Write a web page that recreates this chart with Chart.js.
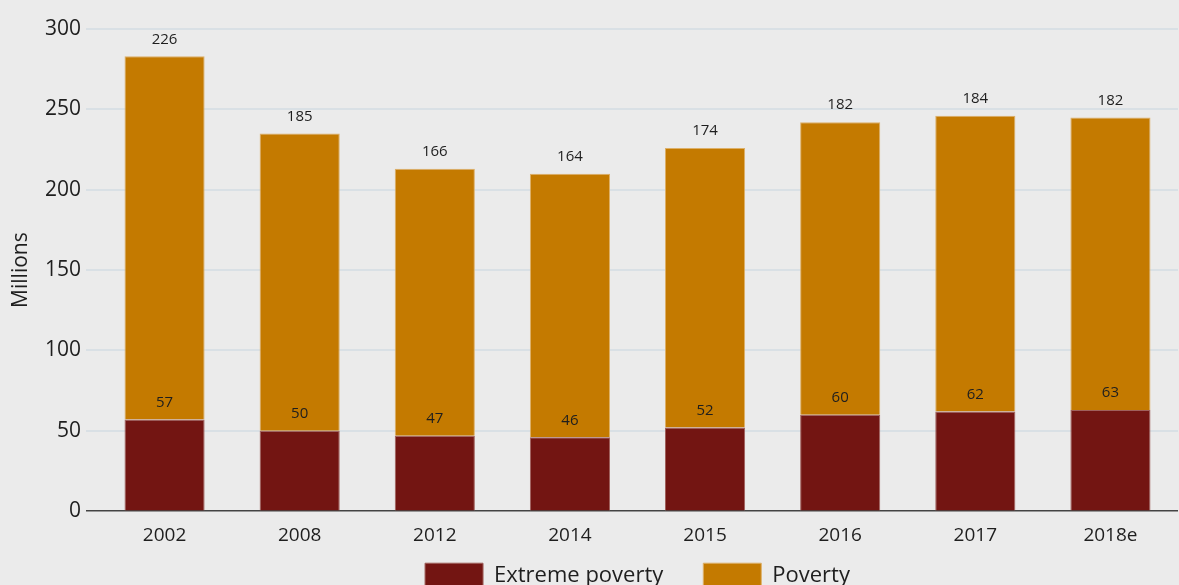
<!DOCTYPE html>
<html>
<head>
<meta charset="utf-8">
<script src="https://cdn.jsdelivr.net/npm/chart.js@4"></script>
<style>
  html, body { margin: 0; padding: 0; background: #ebebeb; overflow: hidden; }
  #wrap { width: 1179px; height: 585px; overflow: hidden; }
  #box { width: 1179px; height: 628px; }
</style>
</head>
<body>
<div id="wrap"><div id="box"><canvas id="chart"></canvas></div></div>
<script>
// Personer i fattigdom, miljoner
const years = ['2002', '2008', '2012', '2014', '2015', '2016', '2017', '2018e'];
const extremePoverty = [57, 50, 47, 46, 52, 60, 62, 63];
const poverty = [226, 185, 166, 164, 174, 182, 184, 182];
const yTicks = [0, 50, 100, 150, 200, 250, 300];

const FONT = "'Open Sans', 'DejaVu Sans', sans-serif";

// Siffror ovanför varje stapelsegment
const valueLabels = {
    id: 'valueLabels',
    afterDatasetsDraw(chart) {
        const ctx = chart.ctx;
        ctx.save();
        ctx.font = '15px ' + FONT;
        ctx.fillStyle = '#1e1e1e';
        ctx.textAlign = 'center';
        ctx.textBaseline = 'middle';
        chart.data.datasets.forEach((ds, i) => {
            chart.getDatasetMeta(i).data.forEach((bar, j) => {
                ctx.fillText(ds.data[j], bar.x, bar.y - 17);
            });
        });
        ctx.restore();
    }
};

const background = {
    id: 'background',
    beforeDraw(chart) {
        const ctx = chart.ctx;
        ctx.save();
        ctx.fillStyle = '#ebebeb';
        ctx.fillRect(0, 0, chart.width, chart.height);
        ctx.restore();
    }
};

// Legenden centreras under diagramytan och flyttas upp närmare axeln
const legendPlacement = {
    id: 'legendPlacement',
    afterLayout(chart) {
        const lg = chart.legend;
        const area = chart.chartArea;
        lg.left = area.left;
        lg.right = area.right;
        lg.top = area.bottom + 12;
        lg.bottom = lg.top + lg.height;
    }
};

new Chart(document.getElementById('chart'), {
    type: 'bar',
    data: {
        labels: years,
        datasets: [
            {
                label: 'Extreme poverty',
                data: extremePoverty,
                backgroundColor: '#731512',
                borderColor: '#a0605c',
                borderWidth: 1,
                borderSkipped: 'bottom'
            },
            {
                label: 'Poverty',
                data: poverty,
                backgroundColor: '#c47a00',
                borderColor: '#ddb068',
                borderWidth: 1,
                borderSkipped: 'bottom'
            }
        ]
    },
    options: {
        responsive: true,
        maintainAspectRatio: false,
        animation: false,
        categoryPercentage: 1,
        barPercentage: 0.593,
        layout: { padding: { top: 29, right: 1, left: 0, bottom: 0 } },
        plugins: {
            legend: {
                position: 'bottom',
                labels: {
                    boxWidth: 58,
                    boxHeight: 26,
                    padding: 40,
                    color: '#1e1e1e',
                    font: { family: FONT, size: 22 }
                }
            },
            tooltip: { enabled: false }
        },
        scales: {
            x: {
                stacked: true,
                grid: { display: false },
                border: { display: false },
                ticks: {
                    color: '#1e1e1e',
                    padding: 5,
                    font: { family: FONT, size: 19 }
                }
            },
            y: {
                stacked: true,
                min: 0,
                max: 300,
                afterBuildTicks(scale) {
                    scale.ticks = yTicks.map(v => ({ value: v }));
                },
                afterFit(scale) {
                    scale.width = 97;
                },
                grid: {
                    color: ctx => ctx.tick && ctx.tick.value === 0 ? '#444444' : '#d9e0e5',
                    lineWidth: ctx => ctx.tick && ctx.tick.value === 0 ? 1.5 : 2,
                    tickColor: ctx => ctx.tick && ctx.tick.value === 0 ? '#444444' : '#d9e0e5',
                    tickLength: 11
                },
                border: { display: false },
                title: {
                    display: true,
                    text: 'Millions',
                    color: '#1e1e1e',
                    font: { family: FONT, size: 21 },
                    padding: { top: 8, bottom: 0 }
                },
                ticks: {
                    color: '#1e1e1e',
                    padding: 5,
                    font: { family: FONT, size: 21 }
                }
            }
        }
    },
    plugins: [background, legendPlacement, valueLabels]
});
</script>
</body>
</html>
